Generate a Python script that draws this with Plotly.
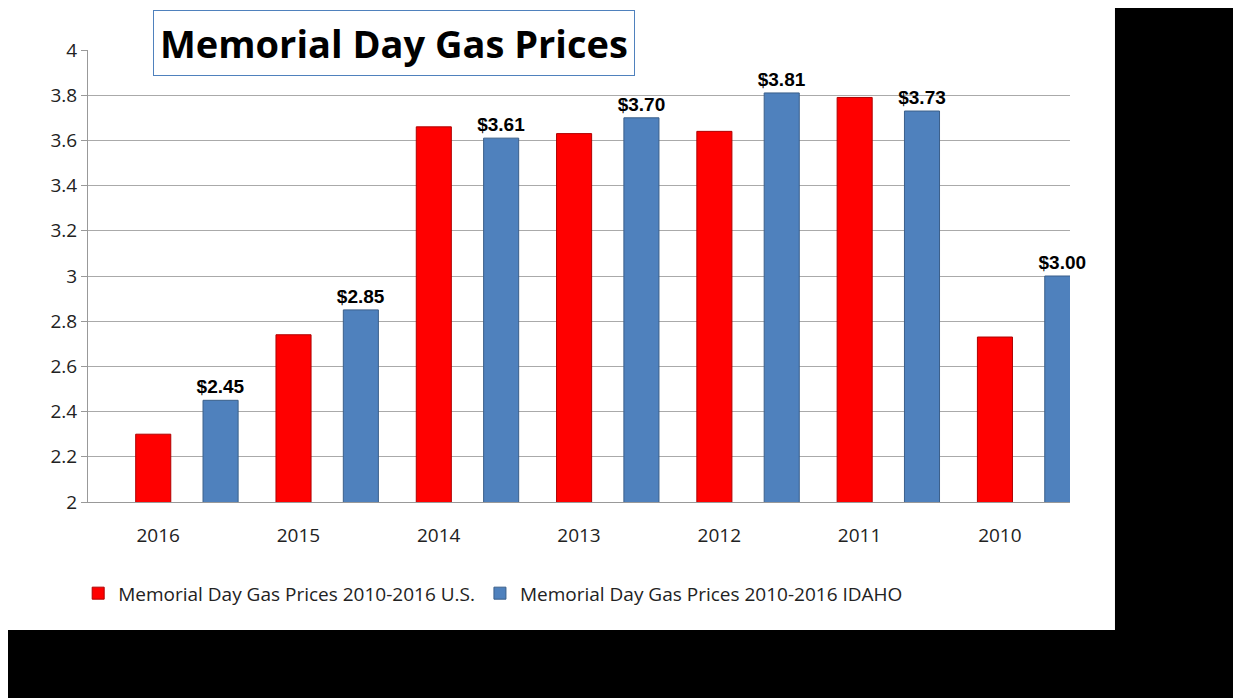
import plotly.graph_objects as go

years = ["2016", "2015", "2014", "2013", "2012", "2011", "2010"]
us_prices = [2.30, 2.74, 3.66, 3.63, 3.64, 3.79, 2.73]
idaho_prices = [2.45, 2.85, 3.61, 3.70, 3.81, 3.73, 3.00]
idaho_labels = ["<b>$%.2f</b>" % v for v in idaho_prices]

fig = go.Figure()
fig.add_trace(go.Bar(x=years, y=us_prices, width=0.25, offset=-0.16,
                     name="Memorial Day Gas Prices 2010-2016 U.S.",
                     marker=dict(color="#ff0000", line=dict(color="#b00000", width=1))))
fig.add_trace(go.Bar(x=years, y=idaho_prices, width=0.25, offset=0.32,
                     name="Memorial Day Gas Prices 2010-2016 IDAHO",
                     text=idaho_labels, textposition="outside", cliponaxis=False,
                     textfont=dict(family="Liberation Sans", size=19, color="black"),
                     marker=dict(color="#4f81bd", line=dict(color="#3a5f8a", width=1))))

# white chart area, black border right and bottom
fig.add_shape(type="rect", xref="paper", yref="paper", x0=-0.0896, x1=1.0458,
              y0=-0.283, y1=1.111, fillcolor="white", line_width=0, layer="below")

fig.add_annotation(text="<b>Memorial Day Gas Prices</b>", xref="paper", yref="paper",
                   x=0.066, xanchor="left", y=1.015, yanchor="middle", showarrow=False,
                   bordercolor="#4f81bd", borderwidth=1, borderpad=6, bgcolor="white",
                   font=dict(family="Open Sans", size=38, color="black"))

fig.update_layout(
    width=1241, height=698,
    margin=dict(l=80, r=179, t=42, b=204),
    paper_bgcolor="black", plot_bgcolor="white",
    font=dict(family="Open Sans", size=19, color="#222"),
    barmode="overlay", showlegend=True, uniformtext=dict(minsize=19, mode="show"),
    legend=dict(orientation="h", x=-0.01, y=-0.16, yanchor="top",
                font=dict(size=19), bgcolor="rgba(0,0,0,0)"),
    xaxis=dict(range=[-0.5, 6.5], showline=True, linecolor="#999",
               ticks="", tickfont=dict(size=19), automargin=False,
               ticklabelstandoff=16),
    yaxis=dict(range=[2, 4], dtick=0.2, showgrid=True, gridcolor="#aaa",
               showline=True, linecolor="#999", tickfont=dict(size=19),
               ticks="outside", ticklen=6, tickcolor="#999", automargin=False),
)

fig.write_html("out.html")
